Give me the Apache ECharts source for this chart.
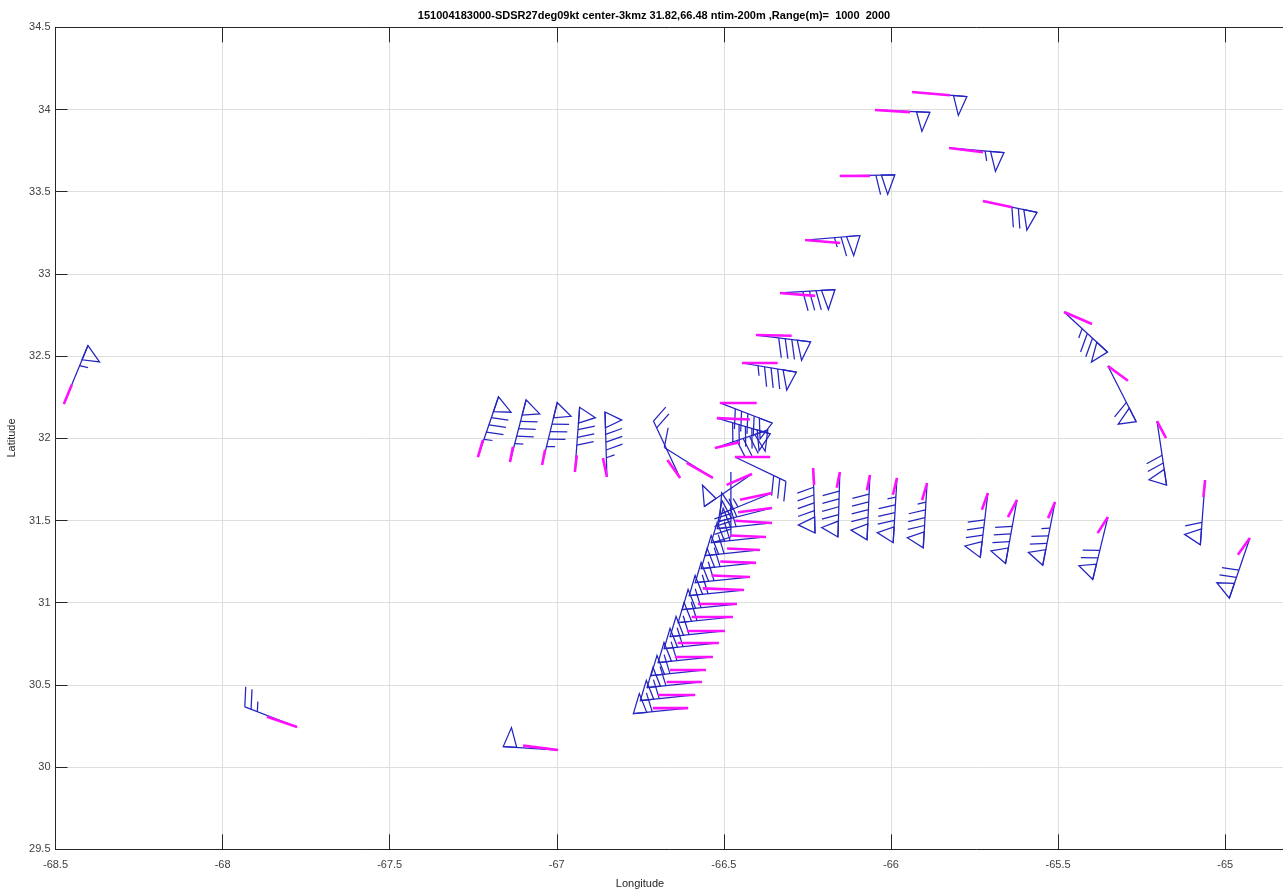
<!DOCTYPE html>
<html><head><meta charset="utf-8">
<script src="https://cdn.jsdelivr.net/npm/echarts@6/dist/echarts.min.js"></script>
<style>html,body{margin:0;padding:0;background:#fff}#c{width:1283px;height:893px}</style>
</head><body><div id="c"></div>
<script>
// Station longitude / latitude
const lon = [
  -65.937,-66.048,-65.826,-65.725,-66.153,-66.257,-66.332,-66.404,-66.446,-66.512,-66.521,-66.527,-66.467,
  -67.236,-67.140,-67.044,-66.946,-66.850,-66.631,-66.533,
  -66.479,-66.233,-66.153,-66.063,-65.982,-65.892,-65.710,-65.623,-65.509,-65.351,-65.060,-64.926,
  -65.482,-65.351,-65.204,
  -66.607,-66.586,-66.566,-66.554,-66.533,-66.515,-66.497,-66.473,-66.461,-66.440,-66.422,-66.404,-66.392,-66.374,-66.356,-66.356,-66.356,-66.416,
  -68.475,-67.777,-66.996
];
const lat = [
  34.106,33.997,33.766,33.443,33.596,33.206,32.884,32.628,32.458,32.215,32.123,31.941,31.886,
  31.886,31.856,31.838,31.795,31.765,31.759,31.759,
  31.795,31.819,31.795,31.777,31.759,31.728,31.667,31.625,31.613,31.521,31.746,31.394,
  32.768,32.440,32.105,
  30.359,30.439,30.518,30.591,30.670,30.755,30.828,30.913,30.992,31.077,31.156,31.242,31.321,31.400,31.485,31.576,31.667,31.783,
  32.209,30.244,30.104
];
// Wind direction (deg, from) and speed (kt) of range 1 (blue barbs)
const dir = [
  94,92,94,100,89,86,87,96,98,108,104,74,112,
  22,17,16,5,358,331,298,
  180,178,182,183,184,184,188,192,193,196,185,202,
  128,149,170,
  265,265,265,265,265,265,265,265,265,265,265,265,265,265,265,258,251,240,
  26,288,273
];
const spd = [
  50,50,55,70,60,65,80,80,85,90,90,80,30,
  85,85,85,80,85,20,10,
  40,90,90,90,85,85,80,80,75,70,60,70,
  75,60,70,
  60,60,60,60,60,60,60,60,60,60,60,60,60,60,60,60,55,50,
  55,25,50
];
// Range 2 vector (magenta): direction (deg) and speed (kt)
const dir2 = [
  94,93,96,100,90,94,94,91,90,90,92,79,90,
  19,13,13,8,346,320,296,
  180,176,193,193,196,199,203,212,207,217,187,220,
  110,122,148,
  270,270,270,270,270,270,270,270,270,272,272,272,272,272,273,264,260,250,
  26,286,276
];
const spd2 = [
  69,64,62,54,55,64,64,65,65,67,60,46,64,
  28,24,24,26,30,36,53,
  0,26,25,24,27,28,28,31,28,31,26,34,
  54,43,31,
  64,67,64,65,69,75,69,75,71,75,70,65,60,65,67,62,59,49,
  33,57,64
];
const titleText = '151004183000-SDSR27deg09kt center-3kmz 31.82,66.48 ntim-200m ,Range(m)=  1000  2000';

const data = lon.map((v, i) => [v, lat[i], dir[i], spd[i], dir2[i], spd2[i]]);

const SX = 55, SY = 65, FB = 0.245;
const blueStyle = { stroke: '#2424c0', lineWidth: 1.25, fill: 'none' };
const magStyle = { stroke: '#ff10ff', lineWidth: 2.6, fill: 'none' };

function renderBarb(params, api) {
  const p = api.coord([api.value(0), api.value(1)]);
  const th = api.value(2) * Math.PI / 180, sp = api.value(3);
  const th2 = api.value(4) * Math.PI / 180, s2 = api.value(5) / 100;
  const ux = Math.sin(th) * SX, uy = -Math.cos(th) * SY;
  const vx = Math.cos(th) * SX, vy = Math.sin(th) * SY;
  const P = (t, h) => [p[0] + t * ux + h * vx, p[1] + t * uy + h * vy];
  const ch = [];
  const tip = P(1, 0);
  ch.push({ type: 'line', shape: { x1: p[0], y1: p[1], x2: tip[0], y2: tip[1] }, style: blueStyle });
  const n50 = Math.floor(sp / 50);
  const rem = sp - 50 * n50;
  const n10 = Math.floor(rem / 10);
  const n5 = (rem - 10 * n10) >= 5 ? 1 : 0;
  let t = 1;
  for (let i = 0; i < n50; i++) {
    ch.push({ type: 'polygon', shape: { points: [P(t, 0), P(t - FB, 0), P(t - FB + 0.11, 0.3)] }, style: blueStyle });
    t -= FB;
  }
  if (n50 > 0) t -= 0.1;
  for (let i = 0; i < n10; i++) {
    const a = P(t, 0), b = P(t + 0.08, 0.3);
    ch.push({ type: 'line', shape: { x1: a[0], y1: a[1], x2: b[0], y2: b[1] }, style: blueStyle });
    t -= 0.12;
  }
  if (n5) {
    if (n50 === 0 && n10 === 0) t = 1 - 0.12;
    const a = P(t, 0), b = P(t + 0.04, 0.15);
    ch.push({ type: 'line', shape: { x1: a[0], y1: a[1], x2: b[0], y2: b[1] }, style: blueStyle });
  }
  if (s2 > 0) {
    const m = [p[0] + s2 * Math.sin(th2) * SX, p[1] - s2 * Math.cos(th2) * SY];
    ch.push({ type: 'line', shape: { x1: p[0], y1: p[1], x2: m[0], y2: m[1] }, style: magStyle });
  }
  return { type: 'group', children: ch };
}

const FONT = '"Liberation Sans", Arial, Helvetica, sans-serif';
const halfFmt = v => (Math.abs(v * 2 - Math.round(v * 2)) > 1e-6 ? '' : String(Math.round(v * 2) / 2));
const axisCol = '#262626';

const chart = echarts.init(document.getElementById('c'), null, { renderer: 'canvas' });
chart.setOption({
  animation: false,
  backgroundColor: '#ffffff',
  grid: { left: 55.5, top: 27.3, right: 0, bottom: 43.7, containLabel: false },
  xAxis: [
    {
      type: 'value', min: -68.5, max: -64.827, interval: 0.5, position: 'bottom',
      axisLine: { show: true, onZero: false, lineStyle: { color: axisCol, width: 1 } },
      axisTick: { show: true, inside: true, length: 15, lineStyle: { color: axisCol, width: 1 } },
      axisLabel: { show: true, color: '#404040', fontSize: 11, fontFamily: FONT, margin: 10, formatter: halfFmt, showMaxLabel: false },
      splitLine: { show: true, lineStyle: { color: '#dedede', width: 1 } }
    },
    {
      type: 'value', min: -68.5, max: -64.827, interval: 0.5, position: 'top',
      axisLine: { show: true, onZero: false, lineStyle: { color: axisCol, width: 1 } },
      axisTick: { show: true, inside: true, length: 15, lineStyle: { color: axisCol, width: 1 } },
      axisLabel: { show: false }, splitLine: { show: false }
    }
  ],
  yAxis: [{
    type: 'value', min: 29.5, max: 34.5, interval: 0.5,
    axisLine: { show: true, onZero: false, lineStyle: { color: axisCol, width: 1 } },
    axisTick: { show: true, inside: true, length: 12, lineStyle: { color: axisCol, width: 1 } },
    axisLabel: { show: true, color: '#404040', fontSize: 11, fontFamily: FONT, margin: 5, formatter: halfFmt },
    splitLine: { show: true, lineStyle: { color: '#dedede', width: 1 } }
  }],
  graphic: [
    { type: 'text', x: 654, y: 16, style: { text: titleText, font: 'bold 11px ' + FONT, fill: '#000', textAlign: 'center', textVerticalAlign: 'middle' } },
    { type: 'text', x: 640, y: 884, style: { text: 'Longitude', font: '11px ' + FONT, fill: '#262626', textAlign: 'center', textVerticalAlign: 'middle' } },
    { type: 'text', x: 12, y: 438, rotation: Math.PI / 2, style: { text: 'Latitude', font: '11px ' + FONT, fill: '#262626', textAlign: 'center', textVerticalAlign: 'middle' } }
  ],
  series: [{
    type: 'custom', xAxisIndex: 0, yAxisIndex: 0, silent: true,
    encode: { x: 0, y: 1 },
    renderItem: renderBarb,
    data: data
  }]
});
</script>
</body></html>
